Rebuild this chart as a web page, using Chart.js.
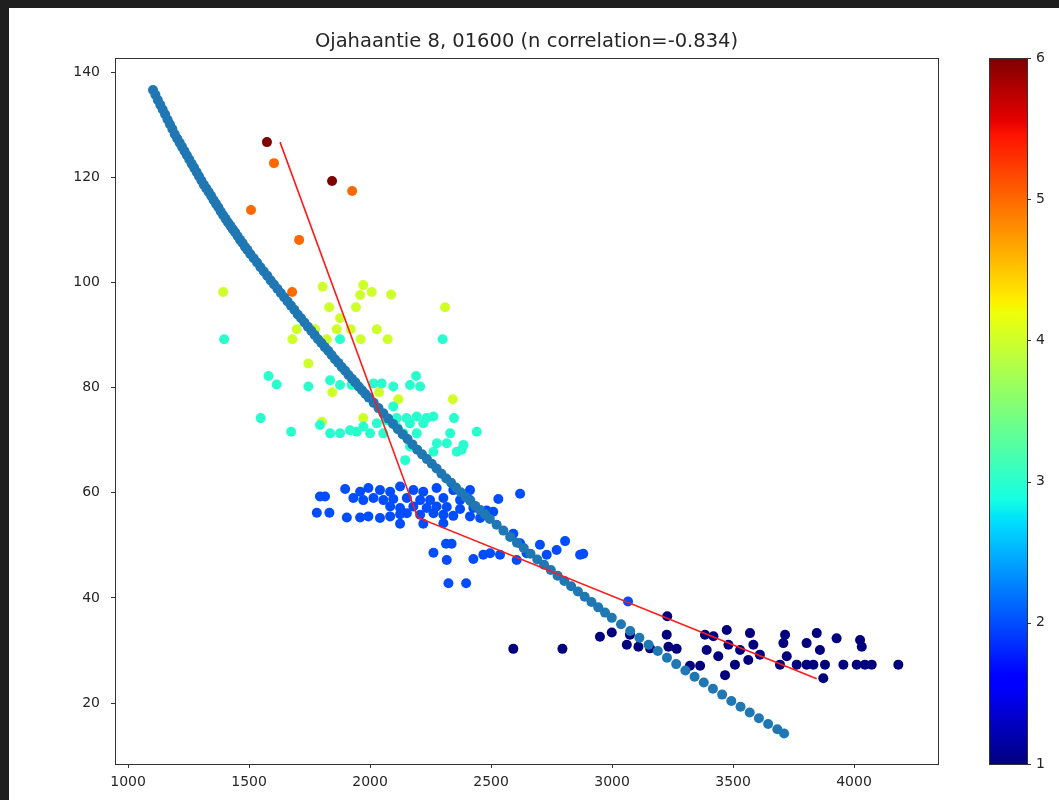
<!DOCTYPE html>
<html>
<head>
<meta charset="utf-8">
<script src="https://cdn.jsdelivr.net/npm/chart.js@4.4.1/dist/chart.umd.min.js"></script>
<style>
  html, body { margin: 0; padding: 0; background: #1f1f1f; overflow: hidden; }
  #paper { position: absolute; left: 9px; top: 8px; width: 1050px; height: 792px; background: #fff; }
  #wrap { position: absolute; left: 0; top: 0; width: 1059px; height: 800px; }
</style>
</head>
<body>
<div id="paper"></div>
<div id="wrap"><canvas id="chart" width="1059" height="800"></canvas></div>
<script>
// tick labels
const xTicks = [1000, 1500, 2000, 2500, 3000, 3500, 4000];
const yTicks = [20, 40, 60, 80, 100, 120, 140];
const cbarTicks = [1, 2, 3, 4, 5, 6];

// fitted curve (blue dots)
const curveX = [1103, 1113, 1123, 1133, 1143, 1153, 1163, 1173, 1183, 1193,
  1203, 1213, 1223, 1233, 1243, 1253, 1263, 1273, 1283, 1293,
  1303, 1313, 1323, 1333, 1343, 1353, 1363, 1373, 1383, 1393,
  1403, 1413, 1423, 1433, 1443, 1453, 1463, 1473, 1483, 1493,
  1505, 1519, 1533, 1547, 1561, 1575, 1589, 1603, 1617, 1631, 1645, 1659, 1673, 1687,
  1701, 1715, 1729, 1743, 1757, 1771, 1785, 1799, 1813, 1827, 1841, 1855, 1869, 1883, 1897,
  1911, 1925, 1939, 1953, 1967, 1981, 1995,
  2015, 2035, 2055, 2075, 2095, 2115, 2135, 2155, 2175, 2195, 2215, 2235, 2255, 2275, 2295,
  2315, 2335, 2355, 2375, 2395, 2415, 2435, 2455, 2475, 2495,
  2523, 2551, 2579, 2607, 2635, 2663, 2691, 2719, 2747, 2775, 2803, 2831, 2859, 2887,
  2915, 2943, 2971, 2999,
  3037, 3075, 3113, 3151, 3189, 3227, 3265, 3303, 3341, 3379, 3417, 3455, 3493,
  3531, 3569, 3607, 3645, 3683, 3711];
const curveY = [136.6, 135.7, 134.7, 133.8, 132.9, 132.0, 131.0, 130.1, 129.2, 128.2,
  127.4, 126.6, 125.8, 125.0, 124.2, 123.4, 122.6, 121.8, 121.0, 120.2,
  119.4, 118.6, 117.9, 117.2, 116.5, 115.7, 115.0, 114.3, 113.5, 112.8,
  112.1, 111.4, 110.8, 110.1, 109.5, 108.8, 108.1, 107.5, 106.8, 106.2,
  105.4, 104.6, 103.8, 102.9, 102.1, 101.3, 100.4, 99.6, 98.8, 98.0, 97.2, 96.4, 95.6, 94.8,
  93.9, 93.2, 92.4, 91.6, 90.8, 90.0, 89.2, 88.5, 87.7, 87.0, 86.2, 85.4, 84.7, 83.9, 83.2,
  82.4, 81.7, 81.0, 80.2, 79.5, 78.8, 78.1,
  77.1, 76.1, 75.1, 74.1, 73.1, 72.1, 71.1, 70.2, 69.2, 68.2, 67.3, 66.4, 65.5, 64.6, 63.6,
  62.7, 61.9, 61.0, 60.1, 59.2, 58.4, 57.5, 56.7, 55.9, 55.0,
  53.9, 52.8, 51.6, 50.5, 49.5, 48.4, 47.3, 46.3, 45.3, 44.2, 43.2, 42.2, 41.2, 40.2,
  39.2, 38.2, 37.2, 36.2,
  35.0, 33.7, 32.4, 31.1, 29.9, 28.6, 27.4, 26.2, 25.0, 23.9, 22.7, 21.6, 20.4,
  19.3, 18.2, 17.1, 16.0, 15.0, 14.2];

// red broken line
const redX = [1628, 2197, 3846];
const redY = [126.7, 55.3, 24.6];

// observations, grouped by colour level 1..6
const lvl1X = [3228, 2950, 2999, 3061, 3074, 3109, 3157, 3226, 3233, 3267, 3322, 3364, 3384, 3419, 3391, 3439,
  3474, 3467, 3481, 3508, 3529, 3563, 3570, 3584, 3611, 3694, 3708, 3715, 3722, 3763, 3804, 3804,
  3832, 3846, 3859, 3880, 3873, 3928, 3956, 4011, 4025, 4032, 4045, 4073, 4183, 2592, 2795];
const lvl1Y = [36.5, 32.6, 33.4, 31.1, 33.0, 30.7, 30.4, 33.0, 30.7, 30.3, 27.1, 27.1, 33.0, 32.7, 30.1, 28.9,
  33.9, 25.3, 31.1, 27.3, 30.1, 28.2, 33.3, 31.1, 29.2, 27.3, 31.4, 33.0, 28.9, 27.3, 31.4, 27.3,
  27.3, 33.3, 30.1, 27.3, 24.7, 32.3, 27.3, 27.3, 32.0, 30.7, 27.3, 27.3, 27.3, 30.3, 30.3];

const lvl2X = [1897, 1959, 1993, 2041, 2083, 2124, 2179, 2220, 2275, 2344, 2413, 2620, 2530,
  1793, 1814, 1931, 1972, 2014, 2055, 2096, 2152, 2207, 2248, 2303, 2372, 2413,
  2083, 2124, 2179, 2234, 2275, 2317, 2372, 2427, 2482, 2509,
  1780, 1832, 1904, 1959, 1993, 2041, 2083, 2124, 2152, 2207, 2262, 2303, 2344, 2413, 2455,
  2124, 2220, 2303,
  2262, 2314, 2337, 2317, 2427, 2468, 2496, 2537, 2592, 2620, 2647, 2702, 2730, 2771, 2806,
  2868, 2881, 2324, 2397, 2606, 3066];
const lvl2Y = [60.7, 60.2, 60.9, 60.5, 60.2, 61.2, 60.5, 60.2, 60.9, 60.5, 60.5, 59.8, 58.8,
  59.3, 59.3, 59.0, 58.6, 59.0, 58.6, 58.8, 59.0, 58.6, 58.6, 59.0, 58.6, 58.6,
  57.4, 57.1, 57.4, 57.1, 57.4, 57.3, 56.9, 57.1, 56.6, 56.4,
  56.2, 56.2, 55.3, 55.3, 55.5, 55.2, 55.5, 55.9, 56.1, 55.8, 56.1, 55.8, 55.6, 55.5, 55.2,
  54.1, 54.1, 54.2,
  48.6, 50.3, 50.3, 47.2, 47.4, 48.2, 48.5, 48.2, 52.2, 50.4, 48.5, 50.1, 48.2, 49.1, 50.8,
  48.2, 48.4, 42.8, 42.8, 47.2, 39.3];

const lvl3X = [1397, 2300, 1876, 1580, 1614, 1745, 1835, 1876, 1924, 1952, 2014, 2048, 2096, 2165,
  2190, 2207, 1548, 1674, 1793, 1835, 1876, 1917, 1945, 2000, 2028, 2069, 2110, 2151, 2193,
  2234, 2262, 2096, 2347, 2331, 2441, 2276, 2317, 2386, 2358, 2262, 2165, 2145, 2055, 2138,
  2193, 1972, 2110, 2165, 2220, 2379];
const lvl3Y = [89.2, 89.2, 89.2, 82.2, 80.6, 80.2, 81.4, 80.5, 80.5, 80.2, 80.8, 80.8, 80.2, 80.5,
  82.2, 80.2, 74.2, 71.6, 72.9, 71.3, 71.3, 71.9, 71.6, 71.3, 73.2, 73.8, 74.2, 74.2, 74.5,
  74.2, 74.5, 76.4, 74.2, 71.3, 71.6, 69.4, 69.4, 69.1, 67.8, 67.8, 68.8, 66.2, 71.3, 71.3,
  71.3, 72.6, 72.6, 73.2, 73.2, 68.2];

const lvl4X = [1393, 1804, 1972, 1959, 2007, 2087, 1831, 1942, 2310, 1876, 1697, 1773, 1862, 1920,
  2028, 1679, 1821, 1961, 2073, 1745, 1844, 2037, 2117, 2342, 1972, 1801];
const lvl4Y = [98.2, 99.2, 99.5, 97.6, 98.2, 97.7, 95.3, 95.3, 95.3, 93.2, 91.1, 91.1, 91.1, 91.1,
  91.1, 89.2, 89.2, 89.2, 89.2, 84.6, 79.1, 79.1, 77.8, 77.8, 74.2, 73.5];

const lvl5X = [1603, 1508, 1707, 1926, 1678];
const lvl5Y = [122.7, 113.8, 108.1, 117.4, 98.2];

const lvl6X = [1574, 1843];
const lvl6Y = [126.7, 119.3];

// jet colormap at levels 1..6
const levelColors = ['#00007f', '#004dff', '#29ffce', '#ceff29', '#ff6800', '#7f0000'];
const jetStops = [
  [0, 'rgb(0,0,127)'], [0.11, 'rgb(0,0,255)'], [0.125, 'rgb(0,0,255)'],
  [0.34, 'rgb(0,219,255)'], [0.35, 'rgb(0,229,247)'], [0.375, 'rgb(21,255,226)'],
  [0.64, 'rgb(239,255,8)'], [0.65, 'rgb(247,245,0)'], [0.66, 'rgb(255,236,0)'],
  [0.89, 'rgb(255,19,0)'], [0.91, 'rgb(232,0,0)'], [1, 'rgb(127,0,0)']
];

const toPts = (xs, ys) => xs.map((x, i) => ({ x: x, y: ys[i] }));

const levels = [[lvl1X, lvl1Y], [lvl2X, lvl2Y], [lvl3X, lvl3Y], [lvl4X, lvl4Y], [lvl5X, lvl5Y], [lvl6X, lvl6Y]];
const levelSets = levels.map((l, i) => ({
  label: 'level ' + (i + 1),
  data: toPts(l[0], l[1]),
  backgroundColor: levelColors[i],
  borderWidth: 0,
  pointRadius: 5
}));

// box around plot + colorbar
const framePlugin = {
  id: 'framePlugin',
  afterDraw(chart) {
    const { ctx, chartArea: a } = chart;
    const cb = chart.scales.cbar;
    ctx.save();
    ctx.strokeStyle = '#333';
    ctx.lineWidth = 1;
    ctx.strokeRect(a.left + 0.5, a.top + 0.5, a.right - a.left, a.bottom - a.top);

    const top = cb.getPixelForValue(6);
    const bottom = cb.getPixelForValue(1);
    const left = a.right + 51, w = 38;
    const g = ctx.createLinearGradient(0, bottom, 0, top);
    jetStops.forEach(s => g.addColorStop(s[0], s[1]));
    ctx.fillStyle = g;
    ctx.fillRect(left, top, w, bottom - top);
    ctx.strokeRect(left + 0.5, top + 0.5, w, bottom - top);
    ctx.beginPath();
    cbarTicks.forEach(v => {
      const y = Math.round(cb.getPixelForValue(v)) + 0.5;
      ctx.moveTo(left + w, y);
      ctx.lineTo(left + w + 4, y);
    });
    ctx.stroke();
    ctx.restore();
  }
};

// fixed axis sizes, no extra label padding
const fixSize = (w, h) => s => {
  if (w) s.width = w;
  if (h) s.height = h;
  s.paddingTop = 0; s.paddingBottom = 0; s.paddingLeft = 0; s.paddingRight = 0;
};

Chart.defaults.font.family = 'DejaVu Sans';
Chart.defaults.font.size = 14;
Chart.defaults.color = '#262626';

const ctx = document.getElementById('chart').getContext('2d');
new Chart(ctx, {
  type: 'scatter',
  data: {
    datasets: [
      {
        label: 'trend',
        data: toPts(redX, redY),
        showLine: true,
        borderColor: '#ff1a1a',
        borderWidth: 1.6,
        pointRadius: 0,
        fill: false
      },
      {
        label: 'curve',
        data: toPts(curveX, curveY),
        backgroundColor: '#1f77b4',
        borderWidth: 0,
        pointRadius: 5
      },
      ...levelSets
    ]
  },
  options: {
    responsive: false,
    devicePixelRatio: 1,
    animation: false,
    layout: { padding: 0 },
    plugins: {
      legend: { display: false },
      tooltip: { enabled: false },
      title: {
        display: true,
        fullSize: false,
        text: 'Ojahaantie 8, 01600 (n correlation=-0.834)',
        font: { size: 19.5, weight: 'normal' },
        color: '#262626',
        padding: { top: 30, bottom: 4.6 }
      }
    },
    scales: {
      x: {
        type: 'linear',
        position: 'bottom',
        min: 946,
        max: 4347,
        afterBuildTicks: s => { s.ticks = xTicks.map(v => ({ value: v })); },
        afterFit: fixSize(0, 36),
        grid: { drawOnChartArea: false, tickLength: 4, color: '#333' },
        border: { display: false },
        ticks: { padding: 6, maxRotation: 0, autoSkip: false, callback: v => String(v) }
      },
      y: {
        type: 'linear',
        position: 'left',
        min: 8.4,
        max: 142.7,
        afterBuildTicks: s => { s.ticks = yTicks.map(v => ({ value: v })); },
        afterFit: fixSize(115, 0),
        grid: { drawOnChartArea: false, tickLength: 4, color: '#333' },
        border: { display: false },
        ticks: { padding: 11, autoSkip: false, callback: v => String(v) }
      },
      cbar: {
        type: 'linear',
        axis: 'y',
        position: 'right',
        min: 1,
        max: 6,
        afterBuildTicks: s => { s.ticks = cbarTicks.map(v => ({ value: v })); },
        afterFit: fixSize(121, 0),
        grid: { display: false, drawTicks: false },
        border: { display: false },
        ticks: { padding: 98, autoSkip: false, callback: v => String(v) }
      }
    }
  },
  plugins: [framePlugin]
});
</script>
</body>
</html>
